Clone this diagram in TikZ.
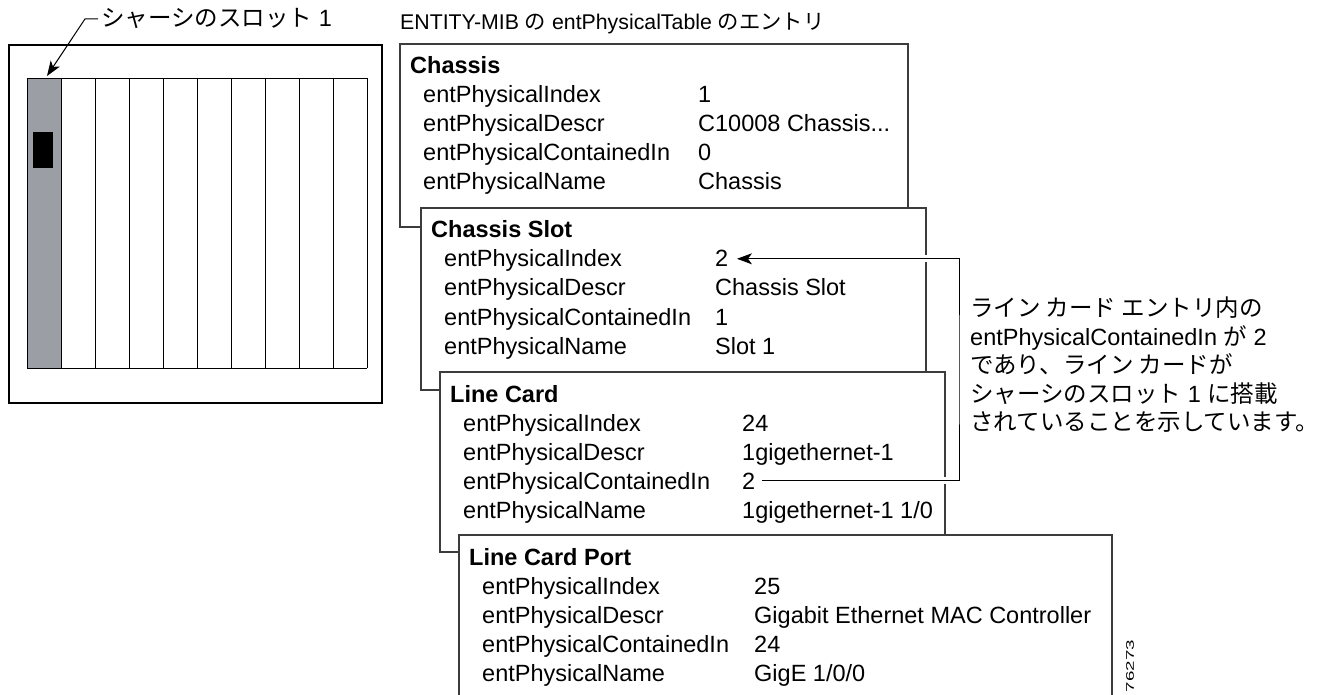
\documentclass[tikz,border=0pt]{standalone}
\usepackage{fontspec}
\usepackage{graphicx}
\setmainfont{Liberation Sans}
\newfontfamily\jpfont{Noto Sans CJK JP}
\newcommand\jp[1]{{\jpfont #1}}
\newcommand\rowf{\fontsize{23.5}{28}\selectfont}
\newcommand\ttlf{\fontsize{23.5}{28}\selectfont\bfseries}
\newcommand\headf{\fontsize{21.3}{26}\selectfont}
\usetikzlibrary{arrows.meta}
\definecolor{slotgray}{RGB}{155,158,164}
\definecolor{edge}{RGB}{60,60,60}
\tikzset{
  entbox/.style={draw=edge, line width=1.1pt, fill=white},
  key/.style={anchor=base west, inner sep=0pt, font=\rowf},
  val/.style={anchor=base west, inner sep=0pt, font=\rowf},
  ttl/.style={anchor=base west, inner sep=0pt, font=\ttlf},
  txt/.style={anchor=base west, inner sep=0pt, font=\rowf},
  conn/.style={draw=black, line width=1pt},
  halo/.style={draw=white, line width=7pt},
  tip/.style={-{Stealth[length=15pt,width=11pt,inset=4pt]}},
}
\newcommand\EntRows[8]{%
  \node[key] (#1k1) at (#2,#4+59) {entPhysicalIndex};
  \node[val] (#1v1) at (#3,#4+59) {#5};
  \node[key] (#1k2) at (#2,#4+88) {entPhysicalDescr};
  \node[val] (#1v2) at (#3,#4+88) {#6};
  \node[key] (#1k3) at (#2,#4+117) {entPhysicalContainedIn};
  \node[val] (#1v3) at (#3,#4+117) {#7};
  \node[key] (#1k4) at (#2,#4+146) {entPhysicalName};
  \node[val] (#1v4) at (#3,#4+146) {#8};
}
\begin{document}
\begin{tikzpicture}[x=1pt,y=-1pt]
\useasboundingbox[fill=white] (0,0) rectangle (1326,695);

% ---- chassis drawing ----
\draw[black, line width=1.8pt] (9,45) rectangle (382,403);
\fill[slotgray] (27,78) rectangle (61,368);
\foreach \i in {0,...,10} {\draw[black, line width=0.9pt] (27+34*\i,78) -- (27+34*\i,368);}
\draw[black, line width=0.9pt] (27,78) -- (367,78) (27,368) -- (367,368);
\fill[black] (33,132) rectangle (53,168);
\node[txt] (slotlbl) at (101,27) {\jp{シャーシのスロット} 1};
\coordinate (sl1) at (47,76);
\draw[conn, tip] ([xshift=-3pt]slotlbl.west) -- ++(-13,0) -- (sl1);

% ---- title ----
\node[anchor=base west, inner sep=0pt, font=\headf] (title) at (400,30)
  {ENTITY-MIB \jp{の} entPhysicalTable \jp{のエントリ}};

% ---- Chassis ----
\path[entbox] (400,44) rectangle (908,227);
\node[ttl] (cht) at (410,74) {Chassis};
\EntRows{ch}{423}{698}{44}{1}{C10008 Chassis...}{0}{Chassis}

% ---- Chassis Slot ----
\path[entbox] (421,208) rectangle (926,390);
\node[ttl] (slt) at (431,238) {Chassis Slot};
\EntRows{sl}{444}{715}{208}{2}{Chassis Slot}{1}{Slot 1}

% ---- Line Card ----
\path[entbox] (440,372) rectangle (945,552);
\node[ttl] (lct) at (450,402) {Line Card};
\EntRows{lc}{463}{742}{372}{24}{1gigethernet-1}{2}{1gigethernet-1 1/0}

% ---- Line Card Port ----
\fill[white] (459,535) rectangle (1112,700);
\draw[draw=edge, line width=1.1pt] (459,700) -- (459,535) -- (1112,535) -- (1112,700);
\node[ttl] (lpt) at (469,565) {Line Card Port};
\EntRows{lp}{482}{754}{535}{25}{Gigabit Ethernet MAC Controller}{24}{GigE 1/0/0}

% ---- connector ----
\coordinate (cr) at (959,370);
\path[halo, shorten <=7pt, shorten >=14pt] (lcv3.east) -| (cr) |- (slv1.east);
\draw[conn, tip, shorten <=7pt, shorten >=8.5pt] (lcv3.east) -| (cr) |- (slv1.east);

% ---- annotation ----
\node[txt] (an1) at (970,316.5) {\jp{ライン カード エントリ内の}};
\node[txt] (an2) at (970,345) {entPhysicalContainedIn \jp{が} 2};
\node[txt] (an3) at (970,373.5) {\jp{であり、ライン カードが}};
\node[txt] (an4) at (970,402) {\jp{シャーシのスロット} 1 \jp{に搭載}};
\node[txt] (an5) at (970,430.5) {\jp{されていることを示しています。}};

% ---- figure number ----
\node[rotate=90, inner sep=0pt, font=\fontsize{11}{11}\selectfont] (fignum) at (1130,666) {\scalebox{1.7}[1]{76273}};
\end{tikzpicture}
\end{document}
